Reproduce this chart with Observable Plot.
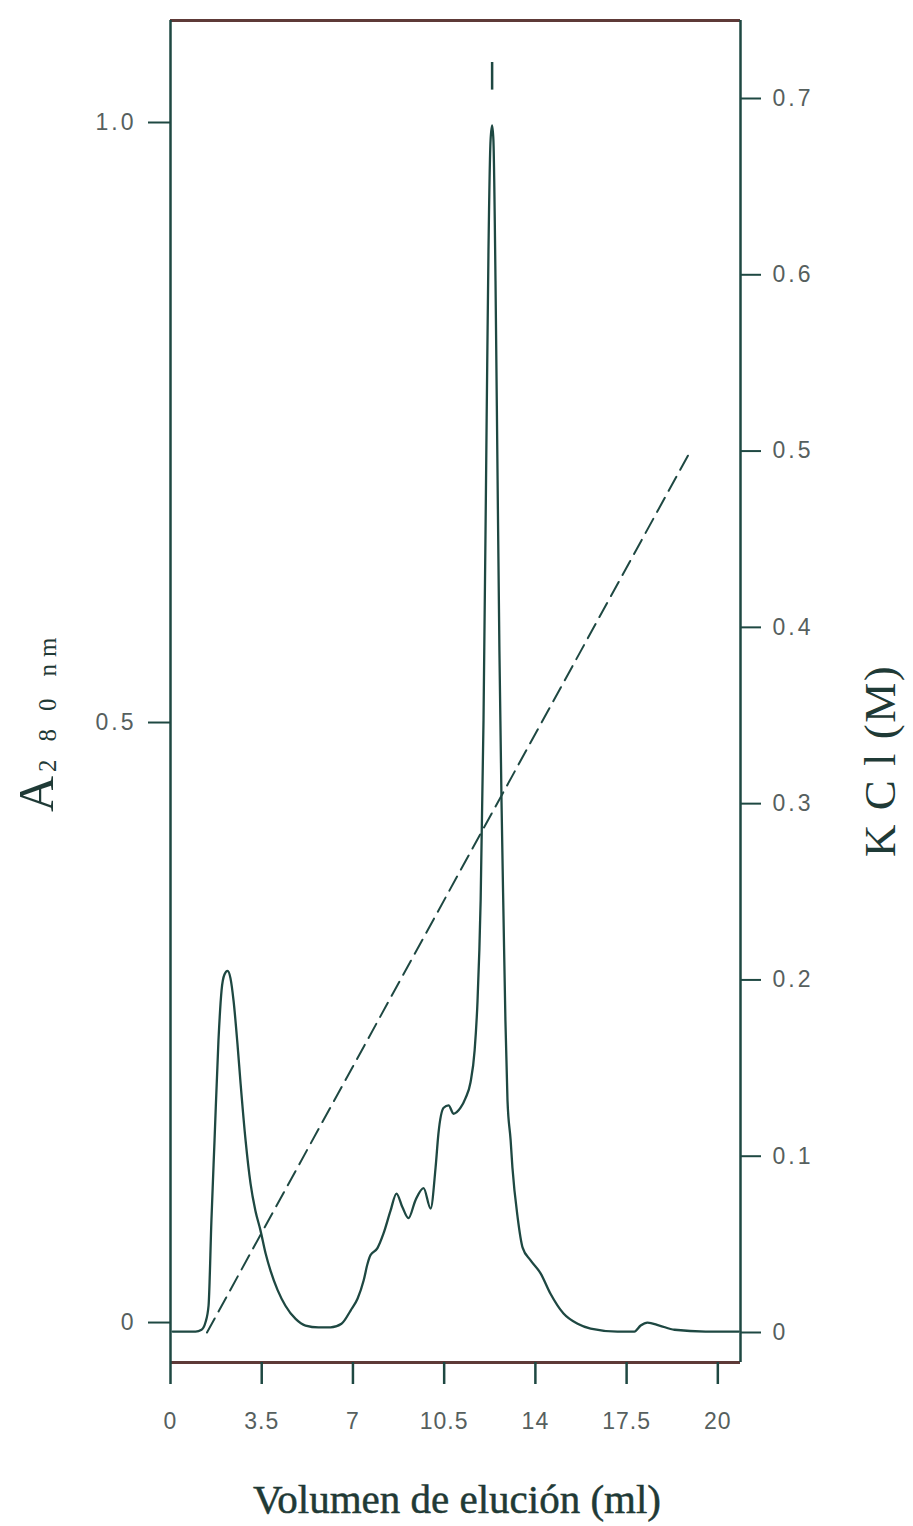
<!DOCTYPE html>
<html><head><meta charset="utf-8">
<script src="https://cdn.jsdelivr.net/npm/d3@7"></script>
<script src="https://cdn.jsdelivr.net/npm/@observablehq/plot@0.6"></script>
<style>body{margin:0;background:#fff} svg{display:block}</style>
</head><body><div id="chart"></div>
<script>
// Elution volume (ml) and absorbance at 280 nm
const volume = [0.08, 0.96, 1.19, 1.34, 1.46, 1.57, 1.69, 1.84, 1.96, 2.07,
  2.19, 2.30, 2.42, 2.57, 2.69, 2.88, 3.07, 3.26, 3.45, 3.65,
  3.84, 4.11, 4.41, 4.80, 5.18, 5.68, 6.14, 6.56, 6.91, 7.18,
  7.41, 7.56, 7.67, 7.94, 8.17, 8.44, 8.67, 8.90, 9.13, 9.40,
  9.71, 9.98, 10.17, 10.28, 10.48, 10.67, 10.86, 11.13, 11.32, 11.51,
  11.67, 11.78, 11.90, 12.01, 12.13, 12.20, 12.28, 12.34, 12.39, 12.47,
  12.55, 12.62, 12.70, 12.78, 12.85, 12.93, 13.05, 13.12, 13.32, 13.51,
  13.81, 14.20, 14.58, 15.08, 15.62, 16.12, 17.15, 17.80, 18.04, 18.30,
  18.76, 19.34, 20.53, 21.8];
const absorbance = [-0.0075, -0.0075, -0.006, 0.0, 0.014, 0.085, 0.152, 0.235, 0.277, 0.290,
  0.293, 0.287, 0.268, 0.232, 0.199, 0.152, 0.116, 0.093, 0.077, 0.0575,
  0.043, 0.027, 0.014, 0.003, -0.0025, -0.004, -0.004, -0.001, 0.010, 0.020,
  0.035, 0.049, 0.056, 0.062, 0.074, 0.093, 0.1075, 0.096, 0.087, 0.102,
  0.112, 0.095, 0.129, 0.1575, 0.179, 0.181, 0.174, 0.179, 0.187, 0.2,
  0.227, 0.268, 0.352, 0.502, 0.752, 0.893, 0.985, 0.9975, 0.985, 0.868,
  0.702, 0.56, 0.435, 0.335, 0.252, 0.185, 0.152, 0.129, 0.0875, 0.0625,
  0.052, 0.041, 0.024, 0.0075, -0.001, -0.005, -0.0075, -0.0075, -0.0025, 0.0,
  -0.0025, -0.006, -0.0075, -0.0075];

// KCl gradient (M)
const kclVolume = [1.4, 19.95];
const kclConc = [0.0, 0.5];

// Peak marker above main peak (absorbance units)
const markerVolume = [12.34];
const markerLow = [1.027];
const markerHigh = [1.05];

// Tick values and labels
const xTickValues = [0, 3.5, 7, 10.5, 14, 17.5, 21];
const xTickLabels = ["0", "3.5", "7", "10.5", "14", "17.5", "20"];
const aTickValues = [0, 0.5, 1.0];
const aTickLabels = ["0", "0.5", "1.0"];
const kclTickValues = [0, 0.1, 0.2, 0.3, 0.4, 0.5, 0.6, 0.7];
const kclTickLabels = ["0", "0.1", "0.2", "0.3", "0.4", "0.5", "0.6", "0.7"];

// Secondary axis mapping (KCl M -> absorbance scale)
const toA = k => 1.469 * k - 0.0083;

const GREEN = "#1e4842";
const BROWN = "#5e3a38";
const TICKTEXT = "#56605e";
const TEXT = "#1f3a36";

const trace = volume.map((v, i) => ({v, a: absorbance[i]}));
const kcl = kclVolume.map((v, i) => ({v, a: toA(kclConc[i])}));
const marker = markerVolume.map((v, i) => ({v, y1: markerLow[i], y2: markerHigh[i]}));

const xLabel = new Map(xTickValues.map((d, i) => [d, xTickLabels[i]]));
const aLabel = new Map(aTickValues.map((d, i) => [d, aTickLabels[i]]));
const kLabel = new Map(kclTickValues.map((d, i) => [toA(d), kclTickLabels[i]]));

const X0 = 0, X1 = 21.87, Y0 = -0.0333, Y1 = 1.085;

const chart = Plot.plot({
  width: 913, height: 1526,
  marginLeft: 170, marginRight: 173, marginTop: 20, marginBottom: 164,
  style: {background: "#fff", fontFamily: "'Liberation Sans', Arial, sans-serif"},
  x: {domain: [X0, X1], axis: null, label: null},
  y: {domain: [Y0, Y1], axis: null, label: null},
  marks: [
    Plot.ruleY([Y1], {stroke: BROWN, strokeWidth: 3}),
    Plot.ruleY([Y0], {stroke: BROWN, strokeWidth: 3}),
    Plot.ruleX([X0], {stroke: GREEN, strokeWidth: 2.5}),
    Plot.ruleX([X1], {stroke: GREEN, strokeWidth: 2.5}),
    Plot.axisX(xTickValues, {anchor: "bottom", label: null, tickSize: 22, tickPadding: 28,
      tickFormat: d => xLabel.get(d), stroke: GREEN, strokeWidth: 2.5, fill: TICKTEXT, fontSize: 23}),
    Plot.axisY(aTickValues, {anchor: "left", label: null, tickSize: 22, tickPadding: 12,
      tickFormat: d => aLabel.get(d), stroke: GREEN, strokeWidth: 2, fill: TICKTEXT, fontSize: 23}),
    Plot.axisY(kclTickValues.map(toA), {anchor: "right", label: null, tickSize: 20, tickPadding: 12,
      tickFormat: d => kLabel.get(d), stroke: GREEN, strokeWidth: 2, fill: TICKTEXT, fontSize: 23}),
    Plot.line(kcl, {x: "v", y: "a", stroke: GREEN, strokeWidth: 2, strokeDasharray: "16,8"}),
    Plot.line(trace, {x: "v", y: "a", stroke: GREEN, strokeWidth: 2.3, curve: "monotone-x"}),
    Plot.ruleX(marker, {x: "v", y1: "y1", y2: "y2", stroke: GREEN, strokeWidth: 2.5})
  ]
});

document.getElementById("chart").append(chart);

const svg = d3.select(chart);
svg.selectAll("g[aria-label='y-axis tick label'] text")
  .style("letter-spacing", "3px");
svg.selectAll("g[aria-label='x-axis tick label'] text")
  .style("letter-spacing", "1px");

// Left axis title: A 280 nm
const lt = svg.append("text")
  .attr("transform", "translate(53,812) rotate(-90)")
  .attr("text-anchor", "start")
  .attr("font-family", "'Liberation Serif', 'DejaVu Serif', serif")
  .attr("fill", TEXT);
lt.append("tspan").attr("font-size", 50).text("A");
lt.append("tspan").attr("font-size", 25).attr("dx", 4).attr("dy", 3)
  .style("letter-spacing", "18px").text("280");
lt.append("tspan").attr("font-size", 25).attr("dx", 4)
  .style("letter-spacing", "7px").text("nm");

// Right axis title: KCl (M)
svg.append("text")
  .attr("transform", "translate(895,857) rotate(-90)")
  .attr("text-anchor", "start")
  .attr("font-family", "'Liberation Serif', 'DejaVu Serif', serif")
  .attr("font-size", 45)
  .attr("fill", TEXT)
  .style("letter-spacing", "1.5px")
  .text("K C l (M)");

// X axis title
svg.append("text")
  .attr("x", 457).attr("y", 1513)
  .attr("text-anchor", "middle")
  .attr("font-family", "'Liberation Serif', 'DejaVu Serif', serif")
  .attr("font-size", 41)
  .attr("fill", TEXT)
  .attr("stroke", TEXT).attr("stroke-width", 0.5)
  .text("Volumen de elución (ml)");
</script>
</body></html>
